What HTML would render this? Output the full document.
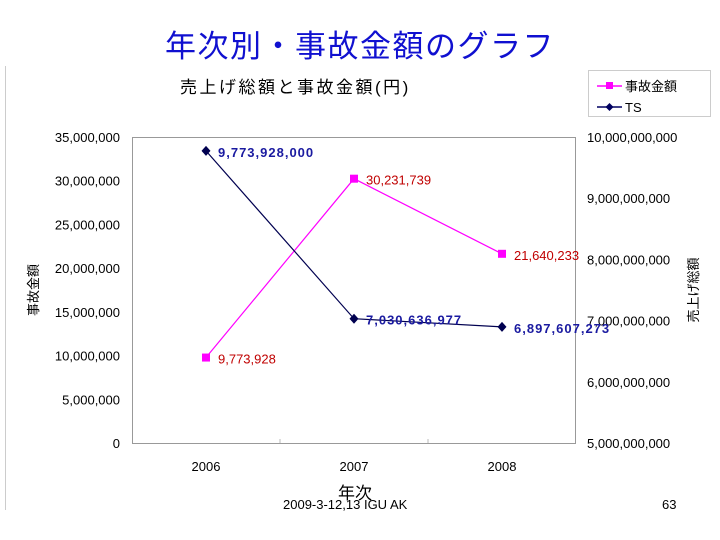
<!DOCTYPE html>
<html><head><meta charset="utf-8"><style>
html,body{margin:0;padding:0;background:#fff;}
svg{display:block;font-family:"Liberation Sans","Noto Sans CJK JP",sans-serif;}
</style></head><body>
<svg id="c" width="720" height="540" viewBox="0 0 720 540">
<text x="360" y="57" text-anchor="middle" font-size="31" letter-spacing="1.5" fill="#1010d0">年次別・事故金額のグラフ</text>
<line x1="5.5" y1="66" x2="5.5" y2="510" stroke="#ccc"/>
<text x="180" y="93" font-size="17" letter-spacing="2.5" fill="#000">売上げ総額と事故金額(円)</text>
<g>
<rect x="588.5" y="70.5" width="122" height="46" fill="#fff" stroke="#ccc"/>
<g><line x1="597" y1="86" x2="622" y2="86" stroke="#ff00ff" stroke-width="1.5"/><rect x="606" y="82" width="7" height="7" fill="#ff00ff"/><text x="625" y="91" font-size="13">事故金額</text></g>
<g><line x1="597" y1="107" x2="622" y2="107" stroke="#000060" stroke-width="1.5"/><path d="M609.5 103 L613.5 107 L609.5 111 L605.5 107Z" fill="#000060"/><text x="625" y="112" font-size="13">TS</text></g>
</g>
<rect x="132.5" y="137.5" width="443" height="306" fill="#fff" stroke="#999"/>
<text transform="translate(38,290) rotate(-90)" text-anchor="middle" font-size="13">事故金額</text>
<text transform="translate(698,290) rotate(-90)" text-anchor="middle" font-size="13">売上げ総額</text>
<text x="355" y="499" text-anchor="middle" font-size="17">年次</text>
<text x="283" y="509" font-size="13">2009-3-12,13 IGU AK</text>
<text x="662" y="509" font-size="13">63</text>
<g id="g"></g>
</svg>
<script>
const categories=["2006","2007","2008"];
const accidentValues=[9773928,30231739,21640233];
const tsValues=[9773928000,7030636977,6897607273];
const leftTicks=[0,5000000,10000000,15000000,20000000,25000000,30000000,35000000];
const rightTicks=[5000000000,6000000000,7000000000,8000000000,9000000000,10000000000];
const NS="http://www.w3.org/2000/svg";
const g=document.getElementById('g');
const L=132,R=576,T=137,B=443;
const yL=v=>B-(v/35000000)*(B-T);
const yR=v=>B-((v-5e9)/5e9)*(B-T);
const xC=i=>L+(i+0.5)*(R-L)/categories.length;
const fmt=v=>v.toLocaleString('en-US');
function mk(tag,attrs,text){const e=document.createElementNS(NS,tag);for(const k in attrs)e.setAttribute(k,attrs[k]);if(text!=null)e.textContent=text;g.appendChild(e);return e;}
leftTicks.forEach(v=>{const e=mk('text',{x:120,y:yL(v)+5,'text-anchor':'end','font-size':13},fmt(v));

});
rightTicks.forEach(v=>{const e=mk('text',{x:587,y:yR(v)+5,'font-size':13},fmt(v));

});
categories.forEach((c,i)=>{const e=mk('text',{x:xC(i),y:471,'text-anchor':'middle','font-size':13},c);


if(i>0){const t=mk('line',{x1:L+i*(R-L)/3,x2:L+i*(R-L)/3,y1:B-4,y2:B,stroke:'#bbb'});

}});
const pa=mk('polyline',{points:accidentValues.map((v,i)=>xC(i)+','+yL(v)).join(' '),fill:'none',stroke:'#ff00ff','stroke-width':1.2});


const pt=mk('polyline',{points:tsValues.map((v,i)=>xC(i)+','+yR(v)).join(' '),fill:'none',stroke:'#000050','stroke-width':1.2});


accidentValues.forEach((v,i)=>{const x=xC(i),y=yL(v);
const m=mk('rect',{x:x-4,y:y-4,width:8,height:8,fill:'#ff00ff'});


const t=mk('text',{x:x+12,y:y+6,'font-size':13,fill:'#c00000'},fmt(v));

});
tsValues.forEach((v,i)=>{const x=xC(i),y=yR(v);
const m=mk('path',{d:`M${x} ${y-5}L${x+4.5} ${y}L${x} ${y+5}L${x-4.5} ${y}Z`,fill:'#000050'});


const t=mk('text',{x:x+12,y:y+6,'font-size':13,'font-weight':'bold',fill:'#1a1aa0','letter-spacing':'1'},fmt(v));

});
</script>
</body></html>
